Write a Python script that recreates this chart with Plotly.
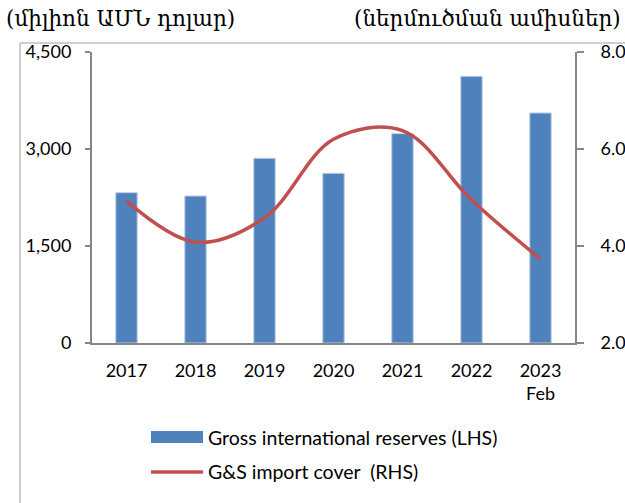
import plotly.graph_objects as go

categories = ["2017", "2018", "2019", "2020", "2021", "2022", "2023"]
tick_labels = ["2017", "2018", "2019", "2020", "2021", "2022", "2023<br>Feb"]
reserves = [2324, 2273, 2856, 2624, 3237, 4124, 3557]
import_cover = [4.93, 4.08, 4.58, 6.20, 6.38, 4.95, 3.73]

left_title = "(միլիոն ԱՄՆ դոլար)"
right_title = "(ներմուծման ամիսներ)"
legend_bar = "Gross international reserves (LHS)"
legend_line = "G&S import cover  (RHS)"

W, H = 625, 503
L, R, T, B = 92, 50, 52, 160
pw, ph = W - L - R, H - T - B

def px(x):
    return (x - L) / pw

def py(y):
    return 1 - (y - T) / ph

fig = go.Figure()
fig.add_trace(go.Bar(
    x=categories, y=reserves, name=legend_bar,
    marker=dict(color="#4F81BD", line=dict(color="#B9CDE5", width=1)),
    width=0.31, yaxis="y", showlegend=False,
))
fig.add_trace(go.Scatter(
    x=categories, y=import_cover, name=legend_line, mode="lines",
    line=dict(color="#C0504D", width=3.5, shape="spline", smoothing=1.0),
    yaxis="y2", showlegend=False,
))

font = "Lato, 'Open Sans', sans-serif"
axis_col = "#868686"
fs = 18

fig.update_layout(
    width=W, height=H,
    margin=dict(l=L, r=R, t=T, b=B, autoexpand=False),
    plot_bgcolor="white", paper_bgcolor="white",
    font=dict(family=font, size=fs, color="#000000"),
    xaxis=dict(
        type="category", tickvals=categories, ticktext=tick_labels,
        showline=True, linecolor=axis_col, linewidth=2,
        ticks="", showgrid=False, zeroline=False, automargin=False,
        tickfont=dict(size=fs, family=font), ticklabelstandoff=10,
    ),
    yaxis=dict(
        range=[0, 4500], tickvals=[0, 1500, 3000, 4500], tickformat=",",
        showline=True, linecolor=axis_col, linewidth=2,
        ticks="outside", ticklen=5, tickcolor=axis_col, tickwidth=2,
        showgrid=False, zeroline=False, automargin=False,
        tickfont=dict(size=fs, family=font), ticklabelstandoff=10,
    ),
    yaxis2=dict(
        range=[2, 8], tickvals=[2, 4, 6, 8], tickformat=".1f",
        overlaying="y", side="right",
        showline=True, linecolor=axis_col, linewidth=2,
        ticks="outside", ticklen=7, tickcolor=axis_col, tickwidth=2,
        showgrid=False, zeroline=False, automargin=False,
        tickfont=dict(size=fs, family=font), ticklabelstandoff=13,
    ),
    bargap=0.69,
)

shapes = [
    # frame
    dict(type="line", xref="paper", yref="paper", x0=px(20), x1=px(625), y0=py(43), y1=py(43),
         line=dict(color="#BFBFBF", width=1.5)),
    dict(type="line", xref="paper", yref="paper", x0=px(20), x1=px(20), y0=py(43), y1=py(503),
         line=dict(color="#BFBFBF", width=1.5)),
    # legend swatches
    dict(type="rect", xref="paper", yref="paper", x0=px(151), x1=px(203), y0=py(443), y1=py(431),
         fillcolor="#4F81BD", line=dict(width=0)),
    dict(type="line", xref="paper", yref="paper", x0=px(151), x1=px(203), y0=py(472), y1=py(472),
         line=dict(color="#C0504D", width=3.5)),
]

annotations = [
    dict(text=left_title, xref="paper", yref="paper", x=px(4), y=py(19), xanchor="left", yanchor="middle",
         showarrow=False, font=dict(family="DejaVu Serif, serif", size=21.5)),
    dict(text=right_title, xref="paper", yref="paper", x=px(623), y=py(19), xanchor="right", yanchor="middle",
         showarrow=False, font=dict(family="DejaVu Serif, serif", size=21.5)),
    dict(text=legend_bar, xref="paper", yref="paper", x=px(206), y=py(437), xanchor="left", yanchor="middle",
         showarrow=False, font=dict(family=font, size=19.5)),
    dict(text=legend_line, xref="paper", yref="paper", x=px(206), y=py(471), xanchor="left", yanchor="middle",
         showarrow=False, font=dict(family=font, size=19.5)),
]
fig.update_layout(shapes=shapes, annotations=annotations)

fig.write_html("out.html", config={"displayModeBar": False},
               post_script="document.body.style.margin='0';document.body.style.overflow='hidden';")
